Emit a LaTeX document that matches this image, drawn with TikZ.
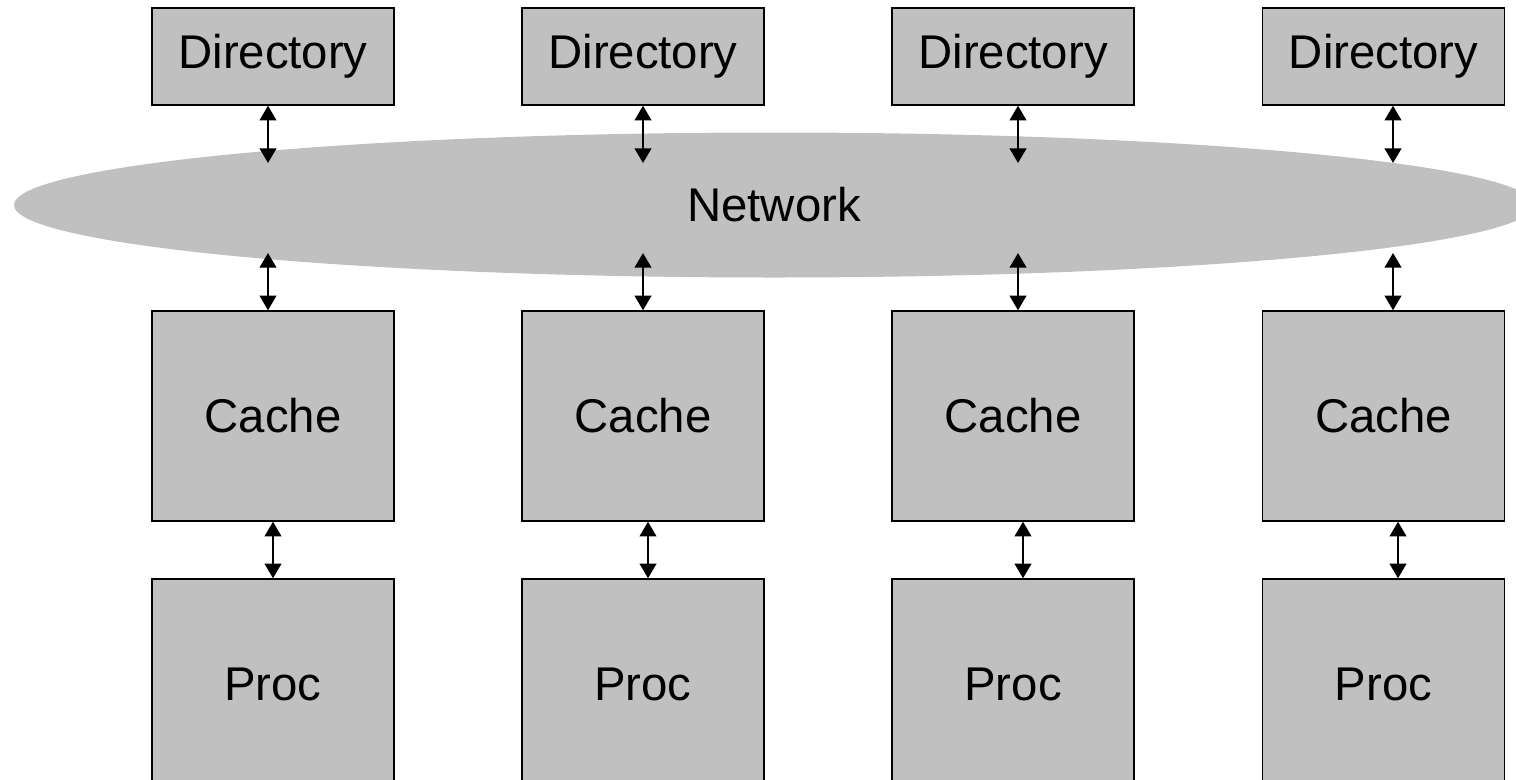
\documentclass[tikz,border=0pt]{standalone}
\usepackage{fontspec}
\setmainfont{Liberation Sans}
\usetikzlibrary{arrows.meta,shapes.geometric}
\definecolor{boxgray}{RGB}{192,192,192}
\begin{document}
\begin{tikzpicture}[x=0.75pt,y=-0.75pt,
  lbl/.style={font=\fontsize{35.5}{40}\selectfont},
  box/.style={lbl,draw=black,line width=1.1pt,fill=boxgray,rectangle,inner sep=0pt,minimum width=181.5pt},
  dirbox/.style={box,minimum height=72.75pt},
  bigbox/.style={box,minimum height=157.5pt},
  arr/.style={{Triangle[length=11pt,width=12.5pt]}-{Triangle[length=11pt,width=12.5pt]},line width=1.6pt},
  netshape/.style={lbl,ellipse,fill=boxgray,draw=none,inner sep=0pt,minimum width=1140pt,minimum height=108.75pt}]
\clip (0,0) rectangle (1516,779);
\node[netshape] (net) at (774,205) {Network};
\foreach \i/\cx/\ax/\bx in {1/273/268/273, 2/643/643/648, 3/1013/1018/1023, 4/1383.5/1393/1398}{
  \node[dirbox] (d\i) at (\cx,56.5) {Directory};
  \node[bigbox] (c\i) at (\cx,416) {Cache};
  \node[bigbox] (p\i) at (\cx,684) {Proc};
  \coordinate (nt\i) at (\ax,163);
  \coordinate (nb\i) at (\ax,253);
  \coordinate (cp\i) at (\bx,550);
  \draw[arr] (d\i.south -| nt\i) -- (nt\i);
  \draw[arr] (nb\i) -- (c\i.north -| nb\i);
  \draw[arr] (c\i.south -| cp\i) -- (p\i.north -| cp\i);
}
\end{tikzpicture}
\end{document}
